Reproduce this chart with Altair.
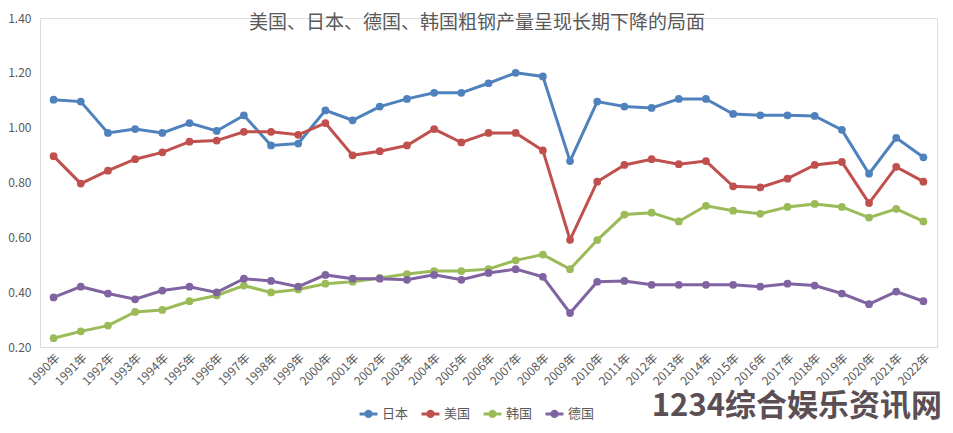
import altair as alt
import pandas as pd

years = ["1990年", "1991年", "1992年", "1993年", "1994年", "1995年", "1996年", "1997年",
         "1998年", "1999年", "2000年", "2001年", "2002年", "2003年", "2004年", "2005年",
         "2006年", "2007年", "2008年", "2009年", "2010年", "2011年", "2012年", "2013年",
         "2014年", "2015年", "2016年", "2017年", "2018年", "2019年", "2020年", "2021年", "2022年"]

japan = [1.102, 1.095, 0.981, 0.995, 0.981, 1.017, 0.988, 1.045, 0.935, 0.942, 1.063, 1.027,
         1.077, 1.105, 1.127, 1.127, 1.162, 1.200, 1.187, 0.878, 1.095, 1.077, 1.072, 1.105,
         1.105, 1.050, 1.045, 1.045, 1.043, 0.992, 0.832, 0.963, 0.892]
usa = [0.896, 0.796, 0.843, 0.885, 0.910, 0.949, 0.953, 0.985, 0.985, 0.974, 1.017, 0.899,
       0.914, 0.935, 0.995, 0.946, 0.981, 0.981, 0.917, 0.591, 0.803, 0.864, 0.885, 0.867,
       0.878, 0.786, 0.782, 0.814, 0.864, 0.875, 0.725, 0.857, 0.803]
korea = [0.232, 0.257, 0.278, 0.328, 0.335, 0.367, 0.388, 0.424, 0.399, 0.410, 0.431, 0.438,
         0.452, 0.466, 0.477, 0.477, 0.484, 0.516, 0.537, 0.484, 0.590, 0.683, 0.690, 0.658,
         0.715, 0.697, 0.686, 0.711, 0.722, 0.711, 0.672, 0.704, 0.658]
germany = [0.381, 0.420, 0.395, 0.374, 0.406, 0.420, 0.399, 0.449, 0.441, 0.420, 0.463, 0.449,
           0.449, 0.445, 0.463, 0.445, 0.470, 0.484, 0.456, 0.324, 0.438, 0.441, 0.427, 0.427,
           0.427, 0.427, 0.420, 0.431, 0.424, 0.395, 0.356, 0.402, 0.367]

series_names = ["日本", "美国", "韩国", "德国"]
series_colors = ["#4F81BD", "#C0504D", "#9BBB59", "#8064A2"]
title_text = "美国、日本、德国、韩国粗钢产量呈现长期下降的局面"
watermark = "1234综合娱乐资讯网"
y_ticks = [0.2, 0.4, 0.6, 0.8, 1.0, 1.2, 1.4]

rows = []
for name, vals in zip(series_names, [japan, usa, korea, germany]):
    for yr, v in zip(years, vals):
        rows.append({"year": yr, "series": name, "value": v})
df = pd.DataFrame(rows)

FONT = "Noto Sans CJK SC"
W, H = 897, 329
TOP = 10

x_enc = alt.X("year:N", sort=years, scale=alt.Scale(type="point", padding=0.5),
              axis=alt.Axis(title=None, labelAngle=-45, ticks=False, grid=False,
                            domainColor="#D9D9D9", domainWidth=1, labelColor="#595959",
                            labelFontSize=12, labelFont=FONT, labelPadding=5))
y_enc = alt.Y("value:Q", scale=alt.Scale(domain=[0.2, 1.4], nice=False, zero=False),
              axis=alt.Axis(title=None, values=y_ticks, format=".2f", domain=False, ticks=False,
                            grid=False, labelColor="#595959", labelFontSize=12, labelFont=FONT,
                            labelPadding=9))
color_scale = alt.Scale(domain=series_names, range=series_colors)

legend_symbol = "M-1,0L1,0M-0.3,0A0.3,0.3,0,1,1,0.3,0A0.3,0.3,0,1,1,-0.3,0Z"

lines = alt.Chart(df).mark_line(strokeWidth=3).encode(
    x=x_enc, y=y_enc,
    color=alt.Color("series:N", scale=color_scale, sort=series_names,
                    legend=alt.Legend(orient="none", legendX=318, legendY=385,
                                      direction="horizontal", title=None,
                                      symbolType=legend_symbol, symbolSize=320,
                                      symbolStrokeWidth=3, labelFontSize=13,
                                      labelFont=FONT, labelColor="#595959",
                                      columnPadding=6, labelOffset=3)),
    detail="series:N",
)
points = alt.Chart(df).mark_point(filled=True, size=60, opacity=1).encode(
    x=x_enc, y=y_enc,
    color=alt.Color("series:N", scale=color_scale, sort=series_names),
)

title = alt.Chart(pd.DataFrame({"t": [title_text]})).mark_text(
    font=FONT, fontSize=19, color="#595959", align="center", baseline="middle"
).encode(text="t:N", x=alt.value(437), y=alt.value(5))

wm = alt.Chart(pd.DataFrame({"t": [watermark]})).mark_text(
    font=FONT, fontSize=31, fontWeight="bold", color="#5B4F55", align="right", baseline="middle"
).encode(text="t:N", x=alt.value(902), y=alt.value(389))

chart = alt.layer(lines, points, title, wm).properties(
    width=W, height=H,
    autosize=alt.AutoSizeParams(type="none"),
    padding={"left": 32, "top": TOP, "right": 8, "bottom": 78},
).configure_view(stroke=None).configure(background="white")

chart.save("out.html", embed_options={"renderer": "svg", "actions": False})
